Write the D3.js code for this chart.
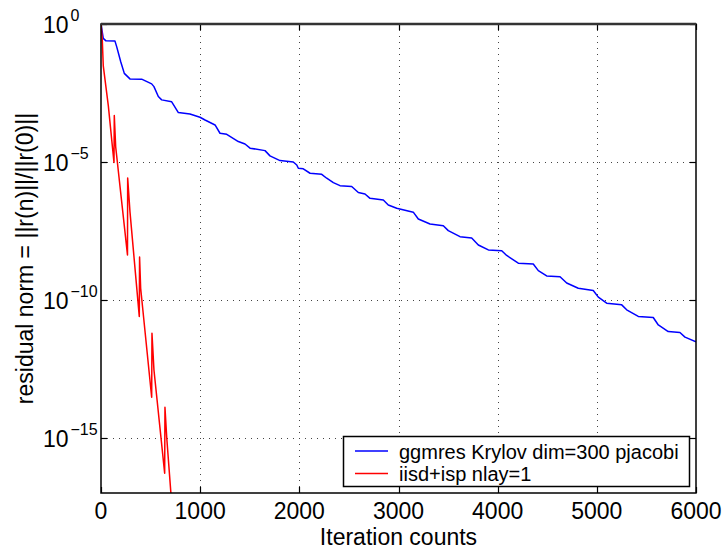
<!DOCTYPE html>
<html>
<head>
<meta charset="utf-8">
<script src="https://cdn.jsdelivr.net/npm/d3@7/dist/d3.min.js"></script>
<style>
  html, body { margin: 0; padding: 0; background: #fff; }
  svg { display: block; font-family: "Liberation Sans", Arial, Helvetica, sans-serif; }
</style>
</head>
<body>
<svg id="chart" width="726" height="551"></svg>
<script>
// Iteration counts and log10 of the relative residual ||r(n)||/||r(0)||
const gmresIter = [0, 23, 50, 141, 158, 199, 235, 292, 410, 511, 534, 578, 612, 713, 780, 897, 998, 1049,
  1150, 1200, 1268, 1385, 1452, 1503, 1654, 1704, 1805, 1939, 1974, 1990, 2040, 2108, 2226, 2276, 2343,
  2410, 2528, 2595, 2662, 2713, 2847, 2897, 2982, 3149, 3200, 3318, 3452, 3502, 3620, 3738, 3805, 3906,
  4041, 4091, 4208, 4359, 4410, 4494, 4629, 4696, 4813, 4964, 5015, 5099, 5251, 5301, 5418, 5569, 5620,
  5720, 5838, 5889, 6000];
const gmresLog10 = [0, -0.52, -0.61, -0.62, -0.82, -1.37, -1.79, -1.99, -2.00, -2.17, -2.27, -2.63, -2.75,
  -2.82, -3.21, -3.26, -3.38, -3.48, -3.66, -3.96, -4.00, -4.26, -4.35, -4.50, -4.59, -4.78, -4.95, -5.00,
  -5.11, -5.23, -5.25, -5.41, -5.45, -5.59, -5.75, -5.86, -5.89, -6.11, -6.16, -6.32, -6.38, -6.56, -6.68,
  -6.82, -7.07, -7.25, -7.31, -7.49, -7.71, -7.76, -8.01, -8.19, -8.22, -8.39, -8.67, -8.70, -8.94, -9.13,
  -9.16, -9.39, -9.58, -9.66, -9.90, -10.12, -10.18, -10.36, -10.60, -10.64, -10.91, -11.15, -11.18,
  -11.35, -11.52];

const iisdIter = [0, 13, 23, 74, 131, 134, 148, 267, 269, 292, 386, 389, 400, 511, 514, 534, 642, 645, 663, 716];
const iisdLog10 = [0, -0.58, -1.52, -2.97, -5.02, -3.32, -4.45, -8.37, -5.58, -6.80, -10.60, -8.45, -9.58,
  -13.53, -11.21, -12.54, -16.28, -13.89, -15.00, -17.54];

const seriesNames = ["ggmres Krylov dim=300 pjacobi", "iisd+isp nlay=1"];
const seriesColors = ["#0000ff", "#ff0000"];

const xTicks = [0, 1000, 2000, 3000, 4000, 5000, 6000];
const yTickExponents = [0, -5, -10, -15];
const xLabel = "Iteration counts";
const yLabel = "residual norm = ||r(n)||/||r(0)||";

const svg = d3.select("#chart");
const plotL = 101, plotR = 696, plotT = 24, plotB = 493;

const x = d3.scaleLinear().domain([0, 6000]).range([plotL, plotR]);
const y = d3.scaleLog().domain([1e-17, 1]).range([plotB, plotT]);

const toPoints = (it, lg) => it.map((v, i) => [v, Math.pow(10, lg[i])]);
const series = [toPoints(gmresIter, gmresLog10), toPoints(iisdIter, iisdLog10)];

svg.append("defs").append("clipPath").attr("id", "plotClip")
  .append("rect").attr("x", plotL).attr("y", plotT).attr("width", plotR - plotL).attr("height", plotB - plotT);

// dotted grid
const grid = svg.append("g").attr("stroke", "#444").attr("stroke-width", 1)
  .attr("stroke-dasharray", "1,5");
xTicks.slice(1, -1).forEach(t => {
  grid.append("line").attr("x1", Math.round(x(t)) + 0.5).attr("x2", Math.round(x(t)) + 0.5)
    .attr("y1", plotT).attr("y2", plotB);
});
yTickExponents.slice(1).forEach(e => {
  grid.append("line").attr("y1", Math.round(y(Math.pow(10, e))) + 0.5)
    .attr("y2", Math.round(y(Math.pow(10, e))) + 0.5)
    .attr("x1", plotL).attr("x2", plotR);
});

// tick marks on all four sides, pointing inward
const tk = svg.append("g").attr("stroke", "#000").attr("stroke-width", 1.2);
xTicks.forEach(t => {
  const px = Math.round(x(t)) + 0.5;
  tk.append("line").attr("x1", px).attr("x2", px).attr("y1", plotB).attr("y2", plotB - 6);
  tk.append("line").attr("x1", px).attr("x2", px).attr("y1", plotT).attr("y2", plotT + 6);
});
yTickExponents.forEach(e => {
  const py = Math.round(y(Math.pow(10, e))) + 0.5;
  tk.append("line").attr("x1", plotL).attr("x2", plotL + 6).attr("y1", py).attr("y2", py);
  tk.append("line").attr("x1", plotR).attr("x2", plotR - 6).attr("y1", py).attr("y2", py);
});

// data lines
const line = d3.line().x(d => x(d[0])).y(d => y(d[1]));
const plot = svg.append("g").attr("clip-path", "url(#plotClip)");
series.forEach((s, i) => {
  plot.append("path").datum(s).attr("d", line).attr("fill", "none")
    .attr("stroke", seriesColors[i]).attr("stroke-width", 1.5).attr("stroke-linejoin", "round");
});

// axes frame
svg.append("rect").attr("x", plotL).attr("y", plotT).attr("width", plotR - plotL).attr("height", plotB - plotT)
  .attr("fill", "none").attr("stroke", "#000").attr("stroke-width", 1.5);
svg.append("line").attr("x1", plotL).attr("x2", plotR).attr("y1", plotT).attr("y2", plotT)
  .attr("stroke", "#333").attr("stroke-width", 2.5);

// x tick labels
svg.append("g").selectAll("text").data(xTicks).join("text")
  .attr("x", d => x(d)).attr("y", 519).attr("text-anchor", "middle")
  .attr("font-size", 23).attr("fill", "#000").text(d => d);

// y tick labels as powers of ten
const yl = svg.append("g").attr("fill", "#000");
yTickExponents.forEach(e => {
  const py = y(Math.pow(10, e));
  yl.append("text").attr("x", 43).attr("y", py + 9).attr("font-size", 23).text("10");
  yl.append("text").attr("x", 70.5).attr("y", py - 3).attr("font-size", 16)
    .text(e < 0 ? "\u2212" + Math.abs(e) : String(e));
});

// axis titles
svg.append("text").attr("x", (plotL + plotR) / 2).attr("y", 545).attr("text-anchor", "middle")
  .attr("font-size", 23).attr("fill", "#000").text(xLabel);
svg.append("text").attr("transform", `translate(33,${(plotT + plotB) / 2}) rotate(-90)`)
  .attr("text-anchor", "middle").attr("font-size", 23).attr("fill", "#000").text(yLabel);

// legend
const lg = svg.append("g");
lg.append("rect").attr("x", 343.5).attr("y", 436.5).attr("width", 346).attr("height", 50)
  .attr("fill", "#fff").attr("stroke", "#000").attr("stroke-width", 1.5);
seriesNames.forEach((name, i) => {
  const ly = 451 + i * 22.5;
  lg.append("line").attr("x1", 355).attr("x2", 388).attr("y1", ly).attr("y2", ly)
    .attr("stroke", seriesColors[i]).attr("stroke-width", 1.5);
  lg.append("text").attr("x", 399).attr("y", ly + 7.5).attr("font-size", 20).attr("fill", "#000").text(name);
});
</script>
</body>
</html>
